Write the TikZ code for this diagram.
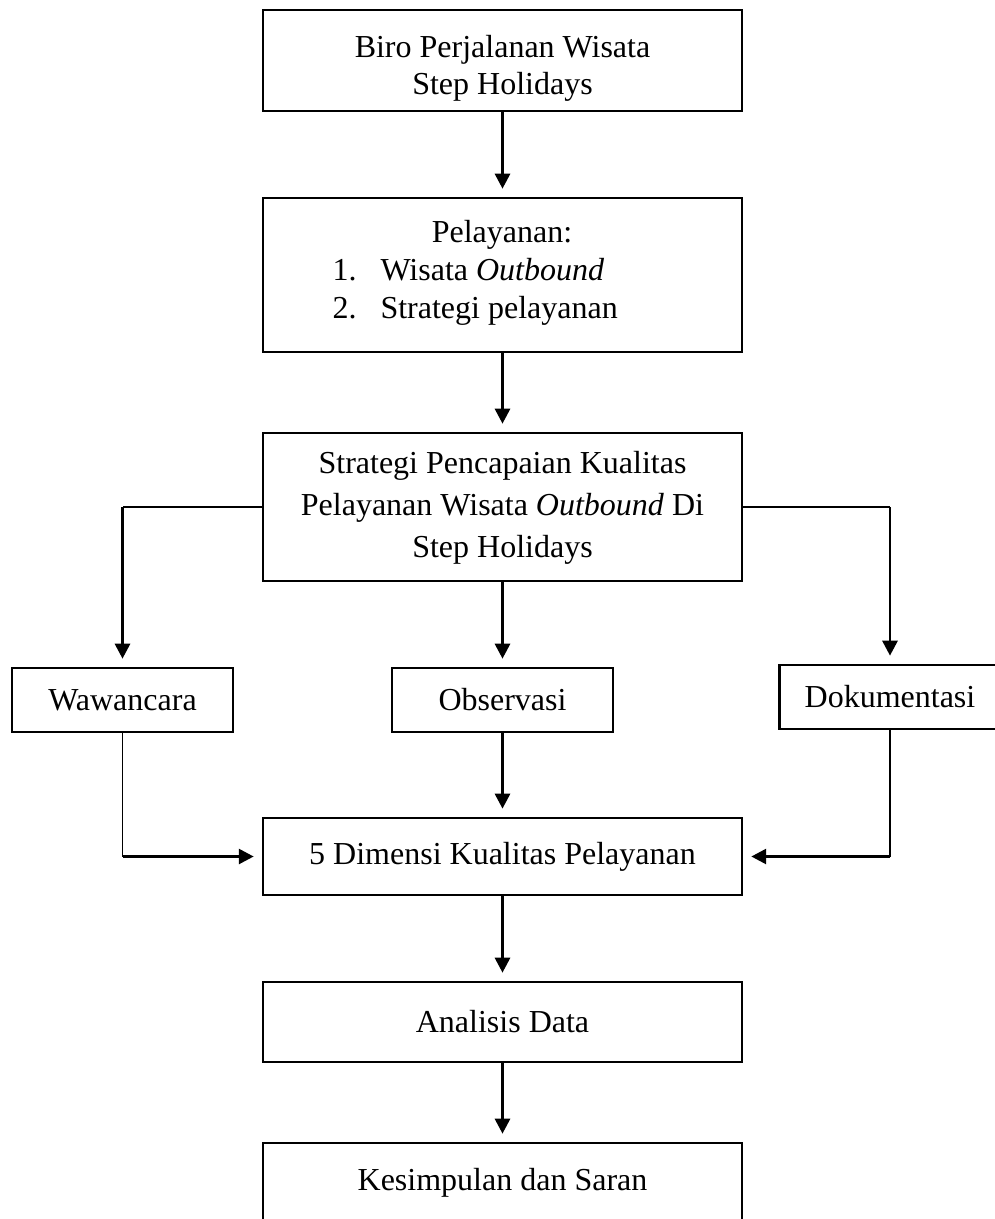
\documentclass[tikz,border=0pt]{standalone}
\usepackage{fontspec}
\setmainfont{Liberation Serif}
\usetikzlibrary{arrows.meta, positioning, calc}

\tikzset{
  box/.style={draw, line width=1pt, minimum width=179.6pt, inner sep=2pt, align=center, font=\fontsize{12}{13.9}\selectfont},
  sidebox/.style={box, minimum width=82.9pt, minimum height=24pt},
  txt/.style={inner sep=0pt, font=\fontsize{12}{13.9}\selectfont},
  arr/.style={-{Triangle[width=5.6pt, length=5.6pt]}, line width=1.1pt, shorten >=3pt},
  link/.style={line width=0.55pt}
}

\begin{document}
\begin{tikzpicture}[x=0.375pt, y=-0.375pt]
    \useasboundingbox (0,0) rectangle (994,1219);

    \node[box, minimum height=37.9pt] (biro) at (502.5,60.5) {};
    \node[txt, anchor=base] (biro1) at (502.5,57) {Biro Perjalanan Wisata};
    \node[txt, anchor=base] (biro2) at (502.5,94) {Step Holidays};

    \node[box, minimum height=57.75pt] (pel) at (502.5,275) {};
    \node[txt, anchor=base] (peltitle) at (502,242) {Pelayanan:};
    \node[txt, anchor=base west] (num1) at (332,280) {1.};
    \node[txt, anchor=base west] (item1) at (380,280) {Wisata \textit{Outbound}};
    \node[txt, anchor=base west] (num2) at (332,318) {2.};
    \node[txt, anchor=base west] (item2) at (380,318) {Strategi pelayanan};

    \node[box, minimum height=55.5pt] (strat) at (502.5,507) {};
    \node[txt, anchor=base] (strat1) at (502.5,473) {Strategi Pencapaian Kualitas};
    \node[txt, anchor=base] (strat2) at (502.5,515) {Pelayanan Wisata \textit{Outbound} Di};
    \node[txt, anchor=base] (strat3) at (502.5,557) {Step Holidays};

    \node[sidebox] (wawan) at (122.5,700) {Wawancara};
    \node[sidebox] (obs) at (502.5,700) {Observasi};
    \node[sidebox] (dok) at (890,697) {Dokumentasi};

    \node[box, minimum height=28.9pt] (dim) at (502.5,856.5) {5 Dimensi Kualitas Pelayanan};
    \node[box, minimum height=30pt] (anal) at (502.5,1022) {Analisis Data};
    \node[box, minimum height=30pt] (kes) at (502.5,1183) {Kesimpulan dan Saran};

    % main flow
    \draw[arr] (biro) -- (pel);
    \draw[arr] (pel) -- (strat);
    \draw[arr] (strat) -- (obs);
    \draw[arr] (obs) -- (dim);
    \draw[arr] (dim) -- (anal);
    \draw[arr] (anal) -- (kes);

    % branches to the methods
    \coordinate (wawtop) at (strat.west -| wawan.north);
    \coordinate (doktop) at (strat.east -| dok.north);
    \draw[link] (strat.west) -- (wawtop);
    \draw[arr] (wawtop) -- (wawan.north);
    \draw[link] (strat.east) -- (doktop);
    \draw[arr] (doktop) -- (dok.north);

    % back into the dimensions
    \coordinate (wawbot) at (wawan.south |- dim.west);
    \coordinate (dokbot) at (dok.south |- dim.east);
    \draw[link] (wawan.south) -- (wawbot);
    \draw[arr] (wawbot) -- (dim.west);
    \draw[link] (dok.south) -- (dokbot);
    \draw[arr] (dokbot) -- (dim.east);
\end{tikzpicture}
\end{document}
